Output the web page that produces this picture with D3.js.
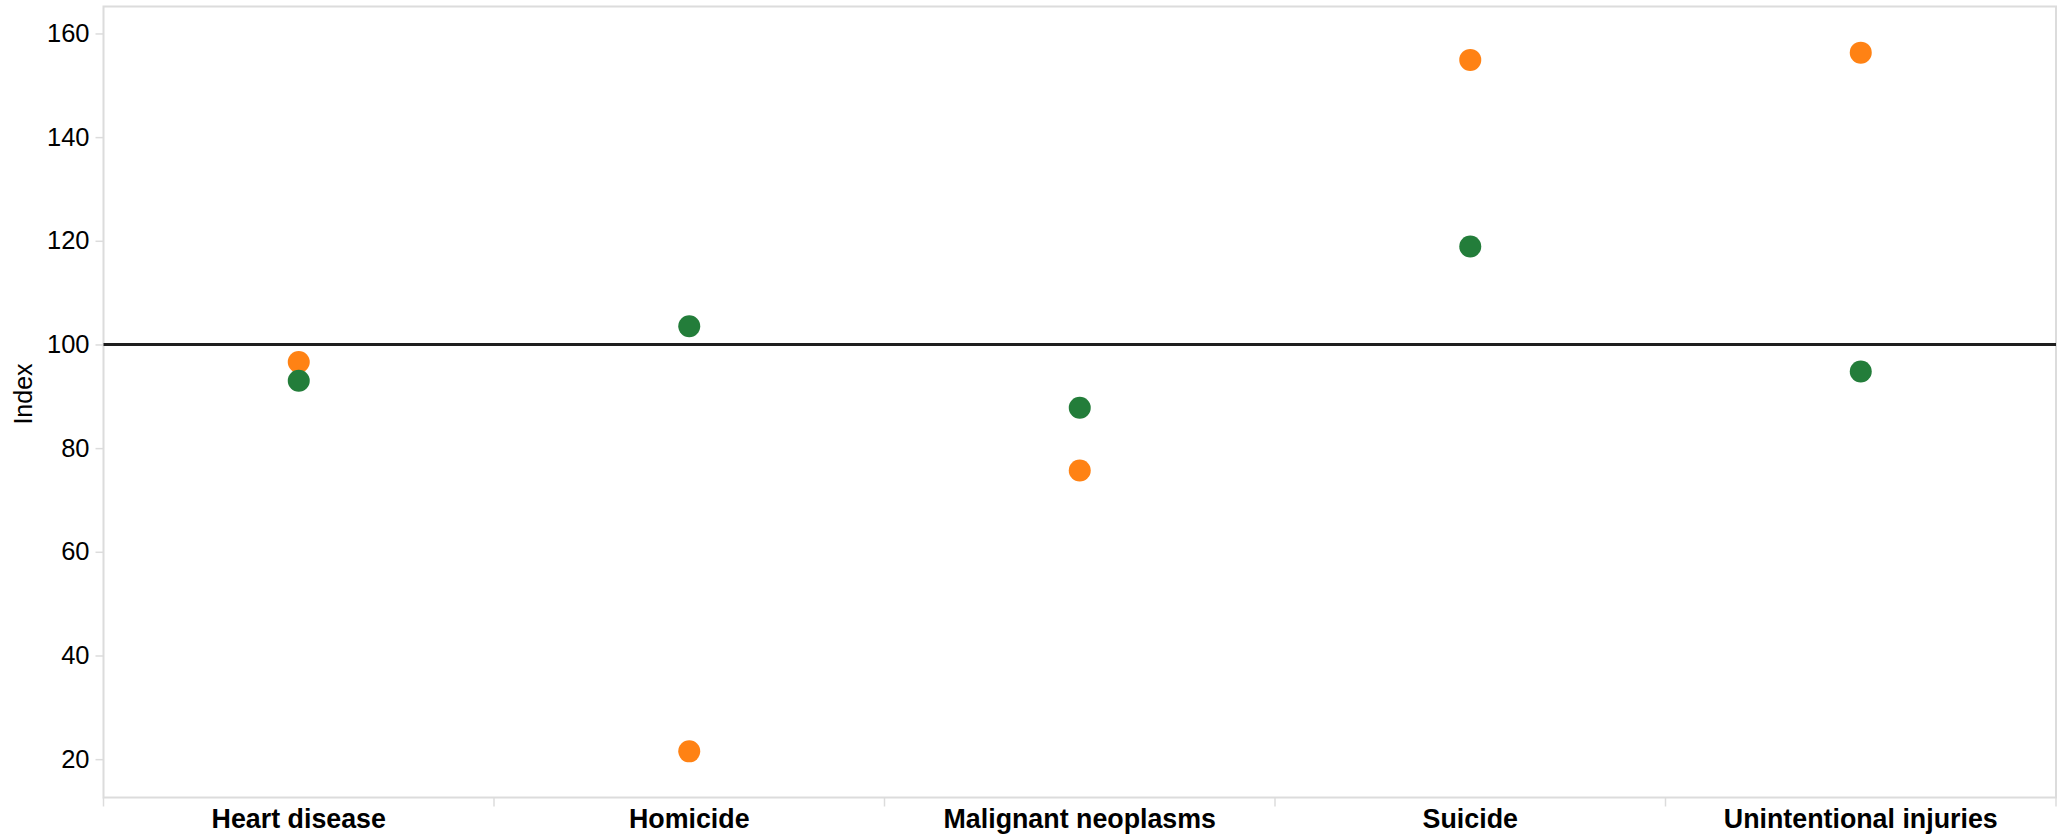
<!DOCTYPE html>
<html>
<head>
<meta charset="utf-8">
<script src="https://cdn.jsdelivr.net/npm/d3@7"></script>
<style>
  html, body { margin: 0; padding: 0; background: #fff; }
  svg { display: block; font-family: "Liberation Sans", Arial, Helvetica, sans-serif; }
</style>
</head>
<body>
<svg id="chart" width="2062" height="835"></svg>
<script>
// ---- data ----
const categories = ["Heart disease", "Homicide", "Malignant neoplasms", "Suicide", "Unintentional injuries"];
const greenValues = [93.0, 103.5, 87.8, 118.9, 94.8];
const orangeValues = [96.6, 21.5, 75.7, 154.9, 156.3];
const yTicks = [20, 40, 60, 80, 100, 120, 140, 160];
const referenceValue = 100;
const yDomain = [12.6, 165.2];
const yTitle = "Index";

// ---- layout ----
const plot = { left: 103.5, right: 2056, top: 6.5, bottom: 797.5 };
const svg = d3.select("#chart");

const x = d3.scaleBand().domain(categories).range([plot.left, plot.right]).padding(0);
const y = d3.scaleLinear().domain(yDomain).range([plot.bottom, plot.top]);

const gridColor = "#dcdcdc";

// plot border
svg.append("rect")
  .attr("x", plot.left).attr("y", plot.top)
  .attr("width", plot.right - plot.left).attr("height", plot.bottom - plot.top)
  .attr("fill", "none").attr("stroke", gridColor).attr("stroke-width", 2);

// y axis
const yAxis = svg.append("g")
  .attr("transform", `translate(${plot.left},0)`)
  .call(d3.axisLeft(y).tickValues(yTicks).tickSize(8).tickPadding(6).tickFormat(d3.format("d")));
yAxis.select(".domain").remove();
yAxis.selectAll(".tick line").attr("stroke", gridColor).attr("stroke-width", 1.5);
yAxis.selectAll(".tick text").attr("fill", "#000").style("font-size", "25.5px");

// y title
svg.append("text")
  .attr("transform", `translate(32,394) rotate(-90)`)
  .attr("text-anchor", "middle")
  .style("font-size", "25px")
  .attr("fill", "#000")
  .text(yTitle);

// x axis labels
const xAxis = svg.append("g")
  .attr("transform", `translate(0,${plot.bottom})`)
  .call(d3.axisBottom(x).tickSize(0).tickPadding(12));
xAxis.select(".domain").remove();
xAxis.selectAll(".tick text")
  .attr("fill", "#000")
  .attr("dy", null)
  .attr("y", 30.5)
  .style("font-size", "26.8px")
  .style("font-weight", "bold");

// x band separators
const boundaries = categories.map(c => x(c)).concat([x(categories[categories.length - 1]) + x.bandwidth()]);
svg.append("g").selectAll("line").data(boundaries).join("line")
  .attr("x1", d => d).attr("x2", d => d)
  .attr("y1", plot.bottom).attr("y2", plot.bottom + 9)
  .attr("stroke", gridColor).attr("stroke-width", 1.5);

// reference line
svg.append("line")
  .attr("x1", plot.left).attr("x2", plot.right)
  .attr("y1", y(referenceValue)).attr("y2", y(referenceValue))
  .attr("stroke", "#1e1e1e").attr("stroke-width", 3);

// points: orange first, then green on top
const r = 11;
svg.append("g").selectAll("circle").data(orangeValues).join("circle")
  .attr("cx", (d, i) => x(categories[i]) + x.bandwidth() / 2)
  .attr("cy", d => y(d))
  .attr("r", r)
  .attr("fill", "#ff8214");
svg.append("g").selectAll("circle").data(greenValues).join("circle")
  .attr("cx", (d, i) => x(categories[i]) + x.bandwidth() / 2)
  .attr("cy", d => y(d))
  .attr("r", r)
  .attr("fill", "#237d3a");
</script>
</body>
</html>
